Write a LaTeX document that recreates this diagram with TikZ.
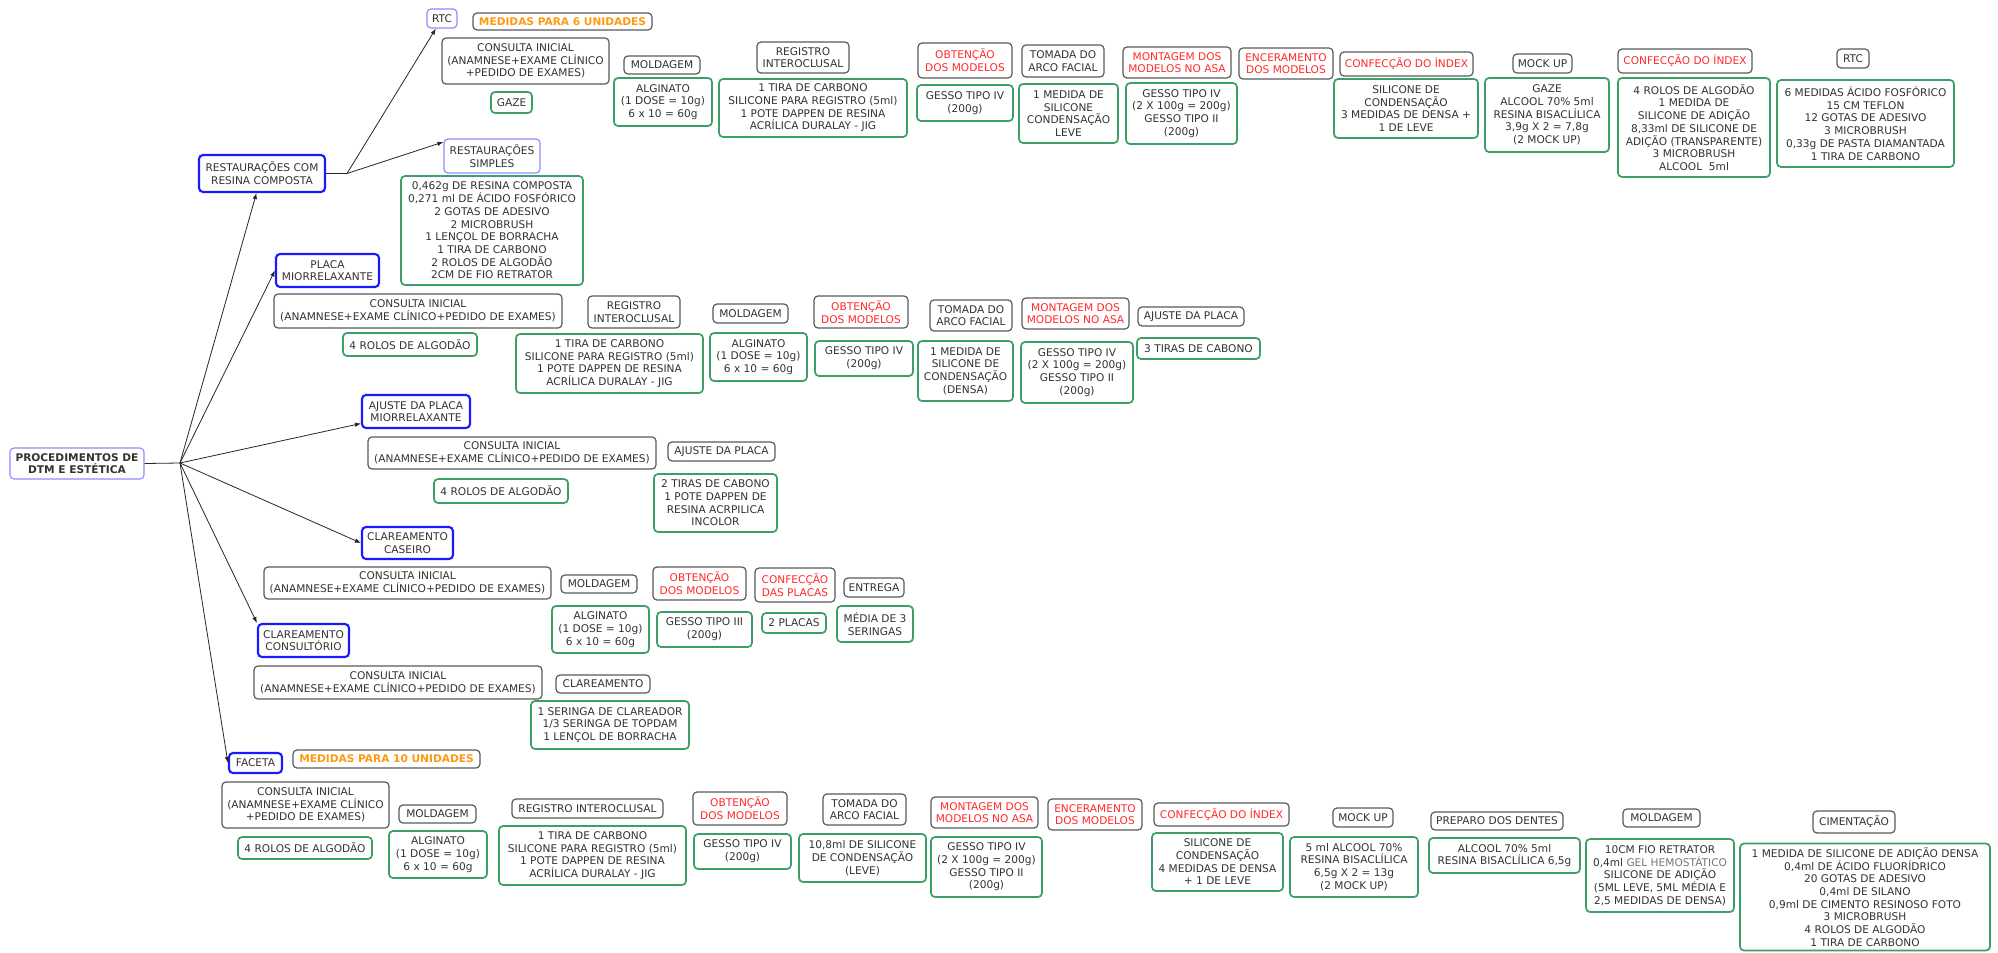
\documentclass[tikz,border=0pt]{standalone}
\usepackage{fontspec}
\setmainfont{DejaVu Sans}
\usetikzlibrary{arrows.meta}

\definecolor{txt}{HTML}{333333}
\definecolor{catblue}{HTML}{1A1AFF}
\definecolor{softblue}{HTML}{8C8CFF}
\definecolor{stepgray}{HTML}{5A5A5A}
\definecolor{stepred}{HTML}{FF2A2A}
\definecolor{noteorange}{HTML}{FF9A10}
\definecolor{matgreen}{HTML}{3C9F66}
\definecolor{paletext}{HTML}{777777}

\tikzset{
  base/.style={rounded corners=4pt, align=center, inner sep=1pt, text=txt,
               font=\fontsize{10.6}{12.7}\selectfont},
  cat/.style={base, draw=catblue, line width=2.1pt},
  root/.style={base, draw=softblue, line width=1.1pt,
               font=\bfseries\fontsize{10.6}{12.7}\selectfont},
  soft/.style={base, draw=softblue, line width=1.2pt},
  stepbox/.style={base, draw=stepgray, line width=1.2pt},
  redstep/.style={stepbox, text=stepred},
  note/.style={stepbox, text=noteorange, font=\bfseries\fontsize{10.6}{12.7}\selectfont},
  mat/.style={base, draw=matgreen, line width=1.7pt},
  wire/.style={line width=0.8pt, draw=black!85},
  link/.style={wire, -{Latex[length=6pt,width=4.5pt]}}
}

% name, style, centre x, centre y, width, height, text
\newcommand\nodebox[7]{\node[#2, minimum width=#5pt, minimum height=#6pt] (#1) at (#3,#4) {#7};}

\begin{document}
\begin{tikzpicture}[x=1pt, y=-1pt]
\fill[white] (0,0) rectangle (1998,953);
\useasboundingbox (0,0) rectangle (1998,953);

% ---------- root and procedure categories ----------
\nodebox{root}{root}{77}{463.5}{134}{31}{PROCEDIMENTOS DE\\DTM E ESTÉTICA}
\nodebox{resta}{cat}{262}{173.5}{126}{37}{RESTAURAÇÕES COM\\RESINA COMPOSTA}
\nodebox{placa}{cat}{327.5}{270.5}{103}{33}{PLACA\\MIORRELAXANTE}
\nodebox{ajuste}{cat}{416}{411.5}{108}{33}{AJUSTE DA PLACA\\MIORRELAXANTE}
\nodebox{caseiro}{cat}{407.5}{543}{91}{32}{CLAREAMENTO\\CASEIRO}
\nodebox{consultorio}{cat}{303.5}{640.5}{91}{33}{CLAREAMENTO\\CONSULTÓRIO}
\nodebox{faceta}{cat}{255.5}{763}{53}{20}{FACETA}

% ---------- restaurações: RTC row ----------
\nodebox{rtcA}{soft}{442}{18.5}{30}{19}{RTC}
\nodebox{med6}{note}{562.5}{21.5}{179}{17}{MEDIDAS PARA 6 UNIDADES}
\nodebox{consA}{stepbox}{525.5}{61}{167}{46}{CONSULTA INICIAL\\(ANAMNESE+EXAME CLÍNICO\\+PEDIDO DE EXAMES)}
\nodebox{gazeA}{mat}{511.5}{102.5}{41}{21}{GAZE}
\nodebox{simples}{soft}{492}{156}{96}{34}{RESTAURAÇÕES\\SIMPLES}
\nodebox{matS}{mat}{492}{230.5}{182}{109}{0,462g DE RESINA COMPOSTA\\0,271 ml DE ÁCIDO FOSFÓRICO\\2 GOTAS DE ADESIVO\\2 MICROBRUSH\\1 LENÇOL DE BORRACHA\\1 TIRA DE CARBONO\\2 ROLOS DE ALGODÃO\\2CM DE FIO RETRATOR}
\nodebox{moldA}{stepbox}{662}{65}{76}{18}{MOLDAGEM}
\nodebox{algA}{mat}{663}{102}{98}{48}{ALGINATO\\(1 DOSE = 10g)\\6 x 10 = 60g}
\nodebox{regA}{stepbox}{803}{57.5}{92}{31}{REGISTRO\\INTEROCLUSAL}
\nodebox{regmatA}{mat}{813}{108}{188}{58}{1 TIRA DE CARBONO\\SILICONE PARA REGISTRO (5ml)\\1 POTE DAPPEN DE RESINA\\ACRÍLICA DURALAY - JIG}
\nodebox{obtA}{redstep}{965}{60.5}{94}{35}{OBTENÇÃO\\DOS MODELOS}
\nodebox{gessoA}{mat}{965}{103}{96}{36}{GESSO TIPO IV\\(200g)}
\nodebox{arcoA}{stepbox}{1063}{61}{82}{32}{TOMADA DO\\ARCO FACIAL}
\nodebox{arcomatA}{mat}{1068.5}{113.5}{99}{59}{1 MEDIDA DE\\SILICONE\\CONDENSAÇÃO\\LEVE}
\nodebox{montA}{redstep}{1177}{62.5}{108}{31}{MONTAGEM DOS\\MODELOS NO ASA}
\nodebox{montmatA}{mat}{1181.5}{113.5}{111}{61}{GESSO TIPO IV\\(2 X 100g = 200g)\\GESSO TIPO II\\(200g)}
\nodebox{encA}{redstep}{1286}{63.5}{94}{31}{ENCERAMENTO\\DOS MODELOS}
\nodebox{idxA}{redstep}{1406.5}{64}{133}{24}{CONFECÇÃO DO ÍNDEX}
\nodebox{idxmatA}{mat}{1406}{108.5}{144}{59}{SILICONE DE\\CONDENSAÇÃO\\3 MEDIDAS DE DENSA +\\1 DE LEVE}
\nodebox{mockA}{stepbox}{1542.5}{63.5}{59}{19}{MOCK UP}
\nodebox{mockmatA}{mat}{1547}{115}{124}{74}{GAZE\\ALCOOL 70\% 5ml\\RESINA BISACLÍLICA\\3,9g X 2 = 7,8g\\(2 MOCK UP)}
\nodebox{idxB}{redstep}{1685}{61}{134}{24}{CONFECÇÃO DO ÍNDEX}
\nodebox{idxmatB}{mat}{1694}{127.5}{152}{99}{4 ROLOS DE ALGODÃO\\1 MEDIDA DE\\SILICONE DE ADIÇÃO\\8,33ml DE SILICONE DE\\ADIÇÃO (TRANSPARENTE)\\3 MICROBRUSH\\ALCOOL~~5ml}
\nodebox{rtcB}{stepbox}{1853}{58.5}{32}{19}{RTC}
\nodebox{rtcmatB}{mat}{1865.5}{123.5}{177}{87}{6 MEDIDAS ÁCIDO FOSFÓRICO\\15 CM TEFLON\\12 GOTAS DE ADESIVO\\3 MICROBRUSH\\0,33g DE PASTA DIAMANTADA\\1 TIRA DE CARBONO}

% ---------- placa miorrelaxante ----------
\nodebox{consP}{stepbox}{418}{311}{288}{34}{CONSULTA INICIAL\\(ANAMNESE+EXAME CLÍNICO+PEDIDO DE EXAMES)}
\nodebox{rolosP}{mat}{410}{344.5}{134}{23}{4 ROLOS DE ALGODÃO}
\nodebox{regP}{stepbox}{634}{312}{92}{32}{REGISTRO\\INTEROCLUSAL}
\nodebox{regmatP}{mat}{609.5}{363.5}{187}{59}{1 TIRA DE CARBONO\\SILICONE PARA REGISTRO (5ml)\\1 POTE DAPPEN DE RESINA\\ACRÍLICA DURALAY - JIG}
\nodebox{moldP}{stepbox}{750.5}{313.5}{75}{19}{MOLDAGEM}
\nodebox{algP}{mat}{758.5}{357}{97}{48}{ALGINATO\\(1 DOSE = 10g)\\6 x 10 = 60g}
\nodebox{obtP}{redstep}{861}{312}{94}{32}{OBTENÇÃO\\DOS MODELOS}
\nodebox{gessoP}{mat}{864}{358.5}{98}{35}{GESSO TIPO IV\\(200g)}
\nodebox{arcoP}{stepbox}{971}{315.5}{82}{31}{TOMADA DO\\ARCO FACIAL}
\nodebox{arcomatP}{mat}{965.5}{371}{95}{60}{1 MEDIDA DE\\SILICONE DE\\CONDENSAÇÃO\\(DENSA)}
\nodebox{montP}{redstep}{1075.5}{313.5}{107}{31}{MONTAGEM DOS\\MODELOS NO ASA}
\nodebox{montmatP}{mat}{1077}{372.5}{112}{61}{GESSO TIPO IV\\(2 X 100g = 200g)\\GESSO TIPO II\\(200g)}
\nodebox{ajP}{stepbox}{1191}{316.5}{106}{19}{AJUSTE DA PLACA}
\nodebox{tirasP}{mat}{1198.5}{348.5}{123}{21}{3 TIRAS DE CABONO}

% ---------- ajuste da placa ----------
\nodebox{consJ}{stepbox}{512}{453}{288}{32}{CONSULTA INICIAL\\(ANAMNESE+EXAME CLÍNICO+PEDIDO DE EXAMES)}
\nodebox{rolosJ}{mat}{501}{491}{134}{24}{4 ROLOS DE ALGODÃO}
\nodebox{ajJ}{stepbox}{721.5}{451.5}{107}{19}{AJUSTE DA PLACA}
\nodebox{matJ}{mat}{715.5}{503}{123}{58}{2 TIRAS DE CABONO\\1 POTE DAPPEN DE\\RESINA ACRPILICA\\INCOLOR}

% ---------- clareamento caseiro ----------
\nodebox{consC}{stepbox}{407.5}{583}{287}{32}{CONSULTA INICIAL\\(ANAMNESE+EXAME CLÍNICO+PEDIDO DE EXAMES)}
\nodebox{moldC}{stepbox}{599}{584}{76}{18}{MOLDAGEM}
\nodebox{algC}{mat}{600.5}{629.5}{97}{47}{ALGINATO\\(1 DOSE = 10g)\\6 x 10 = 60g}
\nodebox{obtC}{redstep}{699.5}{583.5}{93}{33}{OBTENÇÃO\\DOS MODELOS}
\nodebox{gessoC}{mat}{704.5}{629.5}{95}{35}{GESSO TIPO III\\(200g)}
\nodebox{placasC}{redstep}{795}{585}{80}{34}{CONFECÇÃO\\DAS PLACAS}
\nodebox{placasmatC}{mat}{794}{623}{64}{20}{2 PLACAS}
\nodebox{entC}{stepbox}{874}{587.5}{60}{19}{ENTREGA}
\nodebox{entmatC}{mat}{875}{624}{76}{36}{MÉDIA DE 3\\SERINGAS}

% ---------- clareamento consultório ----------
\nodebox{consO}{stepbox}{398}{682.5}{288}{33}{CONSULTA INICIAL\\(ANAMNESE+EXAME CLÍNICO+PEDIDO DE EXAMES)}
\nodebox{clarO}{stepbox}{603}{684}{94}{18}{CLAREAMENTO}
\nodebox{clarmatO}{mat}{610}{725}{158}{48}{1 SERINGA DE CLAREADOR\\1/3 SERINGA DE TOPDAM\\1 LENÇOL DE BORRACHA}

% ---------- faceta ----------
\nodebox{med10}{note}{386.5}{759}{187}{18}{MEDIDAS PARA 10 UNIDADES}
\nodebox{consF}{stepbox}{305.5}{805}{167}{46}{CONSULTA INICIAL\\(ANAMNESE+EXAME CLÍNICO\\+PEDIDO DE EXAMES)}
\nodebox{rolosF}{mat}{305}{848}{134}{22}{4 ROLOS DE ALGODÃO}
\nodebox{moldF}{stepbox}{437.5}{814}{77}{18}{MOLDAGEM}
\nodebox{algF}{mat}{438}{854.5}{98}{47}{ALGINATO\\(1 DOSE = 10g)\\6 x 10 = 60g}
\nodebox{regF}{stepbox}{587.5}{808.5}{151}{19}{REGISTRO INTEROCLUSAL}
\nodebox{regmatF}{mat}{592.5}{855.5}{187}{59}{1 TIRA DE CARBONO\\SILICONE PARA REGISTRO (5ml)\\1 POTE DAPPEN DE RESINA\\ACRÍLICA DURALAY - JIG}
\nodebox{obtF}{redstep}{740}{808.5}{94}{33}{OBTENÇÃO\\DOS MODELOS}
\nodebox{gessoF}{mat}{742.5}{851.5}{97}{35}{GESSO TIPO IV\\(200g)}
\nodebox{arcoF}{stepbox}{864.5}{809.5}{83}{31}{TOMADA DO\\ARCO FACIAL}
\nodebox{arcomatF}{mat}{862.5}{858}{127}{48}{10,8ml DE SILICONE\\DE CONDENSAÇÃO\\(LEVE)}
\nodebox{montF}{redstep}{984.5}{812.5}{107}{31}{MONTAGEM DOS\\MODELOS NO ASA}
\nodebox{montmatF}{mat}{986.5}{867}{111}{60}{GESSO TIPO IV\\(2 X 100g = 200g)\\GESSO TIPO II\\(200g)}
\nodebox{encF}{redstep}{1095}{814.5}{94}{31}{ENCERAMENTO\\DOS MODELOS}
\nodebox{idxF}{redstep}{1221.5}{814.5}{135}{23}{CONFECÇÃO DO ÍNDEX}
\nodebox{idxmatF}{mat}{1217.5}{862}{131}{58}{SILICONE DE\\CONDENSAÇÃO\\4 MEDIDAS DE DENSA\\+ 1 DE LEVE}
\nodebox{mockF}{stepbox}{1363}{817.5}{60}{19}{MOCK UP}
\nodebox{mockmatF}{mat}{1354}{867}{128}{60}{5 ml ALCOOL 70\%\\RESINA BISACLÍLICA\\6,5g X 2 = 13g\\(2 MOCK UP)}
\nodebox{prepF}{stepbox}{1497}{821}{132}{18}{PREPARO DOS DENTES}
\nodebox{prepmatF}{mat}{1504.5}{855.5}{151}{35}{ALCOOL 70\% 5ml\\RESINA BISACLÍLICA 6,5g}
\nodebox{moldF2}{stepbox}{1661.5}{818}{77}{18}{MOLDAGEM}
\nodebox{moldmatF2}{mat}{1660}{875.5}{148}{73}{10CM FIO RETRATOR\\0,4ml \textcolor{paletext}{GEL HEMOSTÁTICO}\\SILICONE DE ADIÇÃO\\(5ML LEVE, 5ML MÉDIA E\\2,5 MEDIDAS DE DENSA)}
\nodebox{cimF}{stepbox}{1854}{822}{82}{22}{CIMENTAÇÃO}
\nodebox{cimmatF}{mat}{1865}{897}{250}{107}{1 MEDIDA DE SILICONE DE ADIÇÃO DENSA\\0,4ml DE ÁCIDO FLUORÍDRICO\\20 GOTAS DE ADESIVO\\0,4ml DE SILANO\\0,9ml DE CIMENTO RESINOSO FOTO\\3 MICROBRUSH\\4 ROLOS DE ALGODÃO\\1 TIRA DE CARBONO}

% ---------- connectors ----------
\coordinate (hub) at (180,463);
\draw[wire] (root.east) -- (hub);
\draw[link] (hub) -- (resta);
\draw[link] (hub) -- (placa.west);
\draw[link] (hub) -- ([yshift=-12pt]ajuste.west);
\draw[link] (hub) -- (caseiro.west);
\draw[link] (hub) -- (consultorio.north west);
\draw[link] (hub) -- (faceta.west);

\coordinate (rhub) at (347,173.5);
\draw[wire] (resta.east) -- (rhub);
\draw[link] (rhub) -- (rtcA);
\draw[link] (rhub) -- ([yshift=14pt]simples.west);
\end{tikzpicture}
\end{document}
